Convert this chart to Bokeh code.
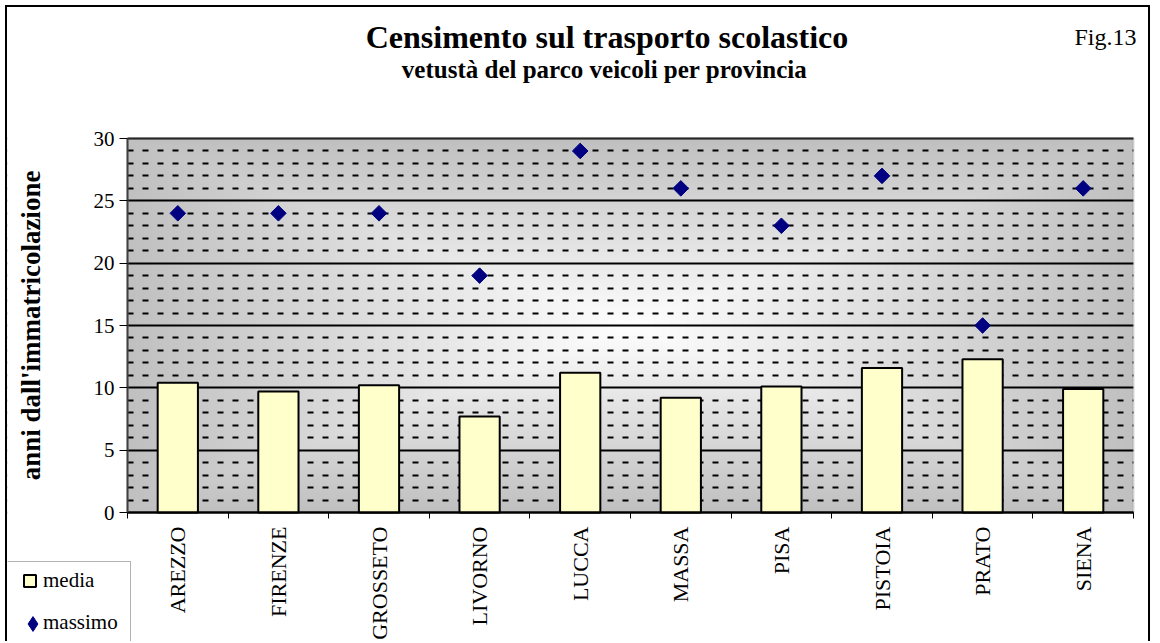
import numpy as np
from bokeh.plotting import figure
from bokeh.models import (Range1d, FixedTicker, Legend, LegendItem, Label,
                          ColumnDataSource, BoxAnnotation)
from bokeh.embed import file_html
from bokeh.resources import INLINE

# ---------------- data ----------------
provinces = ["AREZZO", "FIRENZE", "GROSSETO", "LIVORNO", "LUCCA",
             "MASSA", "PISA", "PISTOIA", "PRATO", "SIENA"]
media = [10.4, 9.7, 10.2, 7.7, 11.2, 9.2, 10.1, 11.6, 12.3, 9.9]
massimo = [24, 24, 24, 19, 29, 26, 23, 27, 15, 26]
y_ticks = [0, 5, 10, 15, 20, 25, 30]
series_names = ["media", "massimo"]
title_text = "Censimento sul trasporto scolastico"
subtitle_text = "vetustà del parco veicoli per provincia"
fig_text = "Fig.13"
y_label = "anni dall'immatricolazione"

FONT = "Liberation Serif"
BAR_FILL = "#FFFFCC"
DOT = "#000080"

# ---------------- layout (canvas pixels) ----------------
W, H = 1145, 636          # canvas size
PX0, PX1 = 120, 1126      # canvas x of plot-area left / right
PY0, PY1 = 505, 131       # canvas y of plot-area bottom / top
n = len(provinces)
YMAX = y_ticks[-1]
sx = (PX1 - PX0) / n
sy = (PY0 - PY1) / YMAX


def dx(cx):  # canvas x -> data x
    return (cx - PX0) / sx


def dy(cy):  # canvas y -> data y
    return (PY0 - cy) / sy


centers = [i + 0.5 for i in range(n)]
bounds = list(range(n + 1))
src = ColumnDataSource(dict(x=centers, media=media, massimo=massimo))

p = figure(width=W, height=H, output_backend="svg", toolbar_location=None,
           x_range=Range1d(dx(0), dx(W)), y_range=Range1d(dy(H), dy(0)),
           min_border=0)
p.background_fill_color = "white"
p.border_fill_color = "white"
p.outline_line_color = None
p.styles = {"margin-left": "5px", "margin-top": "5px",
            "border-left": "2px solid black", "border-top": "2px solid black",
            "border-right": "2px solid black"}

# gradient background of the plot area (rectangular, from center)
ny, nx = 300, 500
u = np.linspace(-1, 1, nx)
v = np.linspace(-1, 1, ny)
U, V = np.meshgrid(u, v)
t = np.maximum(np.abs(U), np.abs(V))
g = (255 - (255 - 192) * t).astype(np.uint8)
img = np.empty((ny, nx), dtype=np.uint32)
view = img.view(dtype=np.uint8).reshape((ny, nx, 4))
view[..., 0] = g
view[..., 1] = g
view[..., 2] = g
view[..., 3] = 255
p.image_rgba(image=[img], x=0, y=0, dw=n, dh=YMAX, level="image")

# y axis / grid
minor_y = [k for k in range(0, YMAX + 1) if k % 5 != 0]
p.yaxis.ticker = FixedTicker(ticks=y_ticks, minor_ticks=minor_y)
p.ygrid.bounds = (0, YMAX)
p.ygrid.grid_line_color = "black"
p.ygrid.grid_line_width = 2
p.ygrid.minor_grid_line_color = "black"
p.ygrid.minor_grid_line_width = 2
p.ygrid.minor_grid_line_dash = "6 9"
p.xgrid.visible = False

# keep grid lines inside the plot area: white masks left and right of it
p.add_layout(BoxAnnotation(left=dx(-20), right=0, bottom=dy(H + 20), top=dy(-20),
                           fill_color="white", fill_alpha=1, line_alpha=0,
                           level="underlay"))
p.add_layout(BoxAnnotation(left=n, right=dx(W + 20), bottom=dy(H + 20), top=dy(-20),
                           fill_color="white", fill_alpha=1, line_alpha=0,
                           level="underlay"))
# plot-area outline (gray)
p.add_layout(BoxAnnotation(left=0, right=n, bottom=0, top=YMAX,
                           fill_alpha=0, line_color="#808080", line_width=2,
                           level="underlay"))

ya = p.yaxis[0]
ya.fixed_location = 0
ya.bounds = (0, YMAX)
ya.major_label_text_font = FONT
ya.major_label_text_font_size = "21px"
ya.major_label_text_color = "black"
ya.major_tick_out = 8
ya.major_tick_in = 0
ya.major_tick_line_color = "black"
ya.minor_tick_line_color = None
ya.axis_line_color = "#404040"
ya.axis_line_width = 2
ya.major_label_standoff = 5
ya.axis_label = y_label
ya.axis_label_text_font = FONT
ya.axis_label_text_font_style = "bold"
ya.axis_label_text_font_size = "27px"
ya.axis_label_text_color = "black"
ya.axis_label_standoff = 45

xa = p.xaxis[0]
xa.fixed_location = 0
xa.bounds = (0, n)
xa.ticker = FixedTicker(ticks=centers, minor_ticks=bounds)
xa.major_label_overrides = {float(c): name for c, name in zip(centers, provinces)}
xa.major_label_orientation = np.pi / 2
xa.major_label_text_font = FONT
xa.major_label_text_font_size = "22px"
xa.major_label_text_color = "black"
xa.major_label_standoff = 8
xa.major_tick_line_color = None
xa.major_tick_out = 0
xa.major_tick_in = 0
xa.minor_tick_line_color = "black"
xa.minor_tick_out = 6
xa.minor_tick_in = 0
xa.axis_line_color = "black"
xa.axis_line_width = 2

# glyphs
r_bar = p.vbar(x="x", top="media", width=0.4, source=src,
               fill_color=BAR_FILL, line_color="black", line_width=2)
r_pts = p.scatter(x="x", y="massimo", source=src, marker="square",
                  angle=np.pi / 4, size=11, fill_color=DOT, line_color=DOT)
# legend-only renderers (not shown in the plot)
r_dummy = p.scatter(x="x", y="massimo", source=src, fill_alpha=0, line_alpha=0)
r_key = p.scatter(x="x", y="massimo", source=src, marker="diamond",
                  fill_color=DOT, line_color=DOT, visible=False)

# titles
p.add_layout(Label(x=dx(599.5), y=dy(29), text=title_text, text_align="center",
                   text_baseline="alphabetic", text_font=FONT,
                   text_font_style="bold", text_font_size="32px",
                   text_color="black"))
p.add_layout(Label(x=dx(597), y=dy(62), text=subtitle_text, text_align="center",
                   text_baseline="alphabetic", text_font=FONT,
                   text_font_style="bold", text_font_size="25px",
                   text_color="black"))
p.add_layout(Label(x=dx(1098), y=dy(29), text=fig_text, text_align="center",
                   text_baseline="alphabetic", text_font=FONT,
                   text_font_size="24px", text_color="black"))

# legend box + legends (bottom-left corner)
p.add_layout(BoxAnnotation(left=dx(-1), right=dx(123), top=dy(554), bottom=dy(H + 10),
                           fill_color="white", fill_alpha=1,
                           line_color="black", line_width=1))
legA = Legend(items=[LegendItem(label=series_names[0], renderers=[r_bar]),
                     LegendItem(label=series_names[1], renderers=[r_dummy])],
              location=(15, 8), margin=0, padding=0, spacing=17,
              glyph_width=15, glyph_height=15, label_standoff=6,
              label_text_font=FONT, label_text_font_size="21px",
              label_text_color="black", label_height=24,
              border_line_color=None, background_fill_alpha=0)
legB = Legend(items=[LegendItem(label=" ", renderers=[r_key])],
              location=(7, 1.5), margin=0, padding=0, spacing=0,
              glyph_width=37, glyph_height=37, label_standoff=0,
              label_text_font_size="1px", label_height=1, label_width=1,
              border_line_color=None, background_fill_alpha=0)
p.add_layout(legA)
p.add_layout(legB)

open("out.html", "w").write(file_html(p, INLINE))
